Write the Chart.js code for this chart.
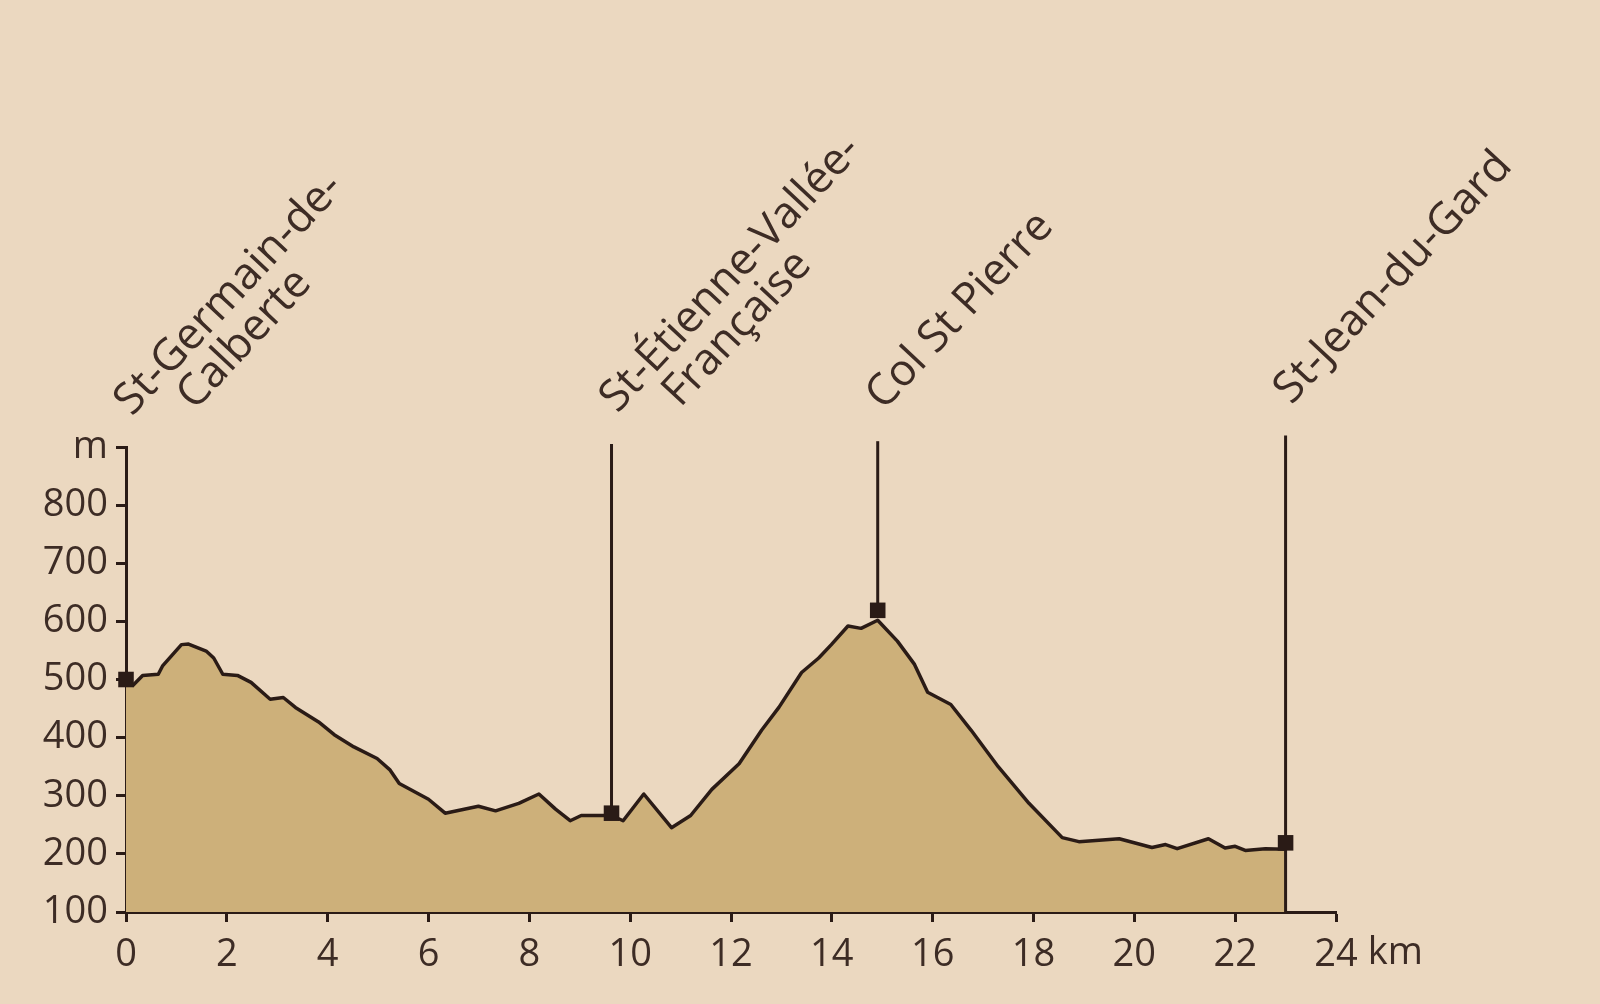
<!DOCTYPE html>
<html lang="fr">
<head>
<meta charset="utf-8">
<title>Profil St-Germain-de-Calberte – St-Jean-du-Gard</title>
<script src="https://cdn.jsdelivr.net/npm/chart.js@4.4.1/dist/chart.umd.min.js"></script>
<style>
  html, body { margin:0; padding:0; background:#ebd8c0; }
  #wrap { position:relative; width:1600px; height:1004px; }
</style>
</head>
<body>
<div id="wrap"><canvas id="profileChart"></canvas></div>
<script>
const distKm = [0, 0.14, 0.33, 0.64, 0.73, 1.10, 1.24, 1.59, 1.74, 1.92, 2.21, 2.48, 2.86, 3.12, 3.36,
  3.82, 4.13, 4.52, 4.98, 5.23, 5.42, 6.00, 6.33, 6.99, 7.33, 7.79, 8.19, 8.52, 8.81, 9.03, 9.63,
  9.86, 10.27, 10.82, 11.20, 11.62, 12.16, 12.61, 12.95, 13.40, 13.74, 13.99, 14.32, 14.58, 14.91,
  15.30, 15.64, 15.90, 16.36, 16.76, 17.30, 17.91, 18.57, 18.90, 19.70, 20.35, 20.62, 20.85, 21.47,
  21.80, 22.00, 22.20, 22.60, 23.00];
const altM = [500, 490, 507, 509, 524, 560, 561, 549, 537, 509, 507, 495, 466, 469, 452,
  427, 405, 384, 364, 345, 321, 294, 270, 282, 274, 287, 303, 277, 257, 266, 266,
  257, 303, 245, 266, 311, 355, 413, 452, 512, 537, 560, 592, 588, 602,
  566, 526, 478, 457, 413, 350, 287, 228, 221, 226, 211, 216, 209, 226,
  210, 213, 206, 209, 208];

const placeNames = [['St-Germain-de-', 'Calberte'], ['St-Étienne-Vallée-', 'Française'], ['Col St Pierre'], ['St-Jean-du-Gard']];
const placeKm   = [0, 9.63, 14.91, 23.0];
const placeAlt  = [500, 270, 619, 219];
const poleFrom  = [null, 270, 619, 100];
const poleTo    = [900, 905, 910, 920];

const xTicks = [0, 2, 4, 6, 8, 10, 12, 14, 16, 18, 20, 22, 24];
const yTicks = [100, 200, 300, 400, 500, 600, 700, 800, 900];

/* ========= Couleurs ========= */
const INK  = '#2a1b16';
const TEXT = '#3d2c25';
const FILL = '#cdb07a';

/* ========= Plugins ========= */
const placeLabels = {
  id: 'placeLabels',
  afterDraw(chart) {
    const { ctx, scales: { x, y } } = chart;
    ctx.save();
    ctx.fillStyle = TEXT;
    ctx.font = '44px "Open Sans"';
    ctx.textAlign = 'left';
    ctx.textBaseline = 'alphabetic';
    placeNames.forEach((lines, i) => {
      const px = x.getPixelForValue(placeKm[i]) + 6;
      const py = y.getPixelForValue(poleTo[i]) - 30;
      ctx.save();
      ctx.translate(px, py);
      ctx.rotate(-47 * Math.PI / 180);
      lines.forEach((t, k) => ctx.fillText(t, k * 47, k * 42));
      ctx.restore();
    });
    // unité de l'axe des distances
    ctx.font = '38px "Open Sans"';
    ctx.textBaseline = 'top';
    const last = xTicks[xTicks.length - 1];
    const w = ctx.measureText(String(last)).width;
    ctx.fillText('km', x.getPixelForValue(last) + w / 2 + 10, x.top + 22);
    ctx.restore();
  }
};

/* ========= Graphique ========= */
const profile = distKm.map((d, i) => ({ x: d, y: altM[i] }));
const markers = placeKm.map((d, i) => ({ x: d, y: placeAlt[i] }));
const poles = placeKm.map((d, i) => poleFrom[i] === null ? null : ({
  type: 'line',
  data: [{ x: d, y: poleFrom[i] }, { x: d, y: poleTo[i] }],
  borderColor: INK, borderWidth: 3, pointRadius: 0, clip: false, order: 1
})).filter(Boolean);

new Chart(document.getElementById('profileChart'), {
  type: 'line',
  data: {
    datasets: [
      {
        type: 'scatter', data: markers, order: 0, clip: false,
        pointStyle: 'rect', pointRadius: 11, backgroundColor: INK, borderColor: INK, borderWidth: 0
      },
      ...poles,
      {
        data: profile, order: 2, fill: 'start', tension: 0,
        backgroundColor: FILL, borderColor: INK, borderWidth: 3.5,
        borderJoinStyle: 'round', pointRadius: 0
      }
    ]
  },
  options: {
    responsive: true,
    maintainAspectRatio: false,
    animation: false,
    layout: { padding: { top: 447, right: 264, bottom: 0, left: 0 } },
    plugins: { legend: { display: false }, tooltip: { enabled: false } },
    scales: {
      x: {
        type: 'linear', min: 0, max: 24,
        afterBuildTicks: s => { s.ticks = xTicks.map(v => ({ value: v })); },
        afterFit: s => { s.height = 92; },
        ticks: {
          color: TEXT, padding: 10,
          font: { family: 'Open Sans', size: 38 },
          maxRotation: 0, autoSkip: false
        },
        grid: { drawOnChartArea: false, drawTicks: true, tickLength: 10, tickWidth: 3, tickColor: INK },
        border: { display: true, color: INK, width: 3 }
      },
      y: {
        type: 'linear', min: 100, max: 900,
        afterBuildTicks: s => { s.ticks = yTicks.map(v => ({ value: v })); },
        afterFit: s => { s.width = 126; },
        ticks: {
          color: TEXT, padding: 8,
          font: { family: 'Open Sans', size: 38 },
          callback: v => v === 900 ? 'm' : v
        },
        grid: { drawOnChartArea: false, drawTicks: true, tickLength: 10, tickWidth: 3, tickColor: INK },
        border: { display: true, color: INK, width: 3 }
      }
    }
  },
  plugins: [placeLabels]
});
</script>
</body>
</html>
